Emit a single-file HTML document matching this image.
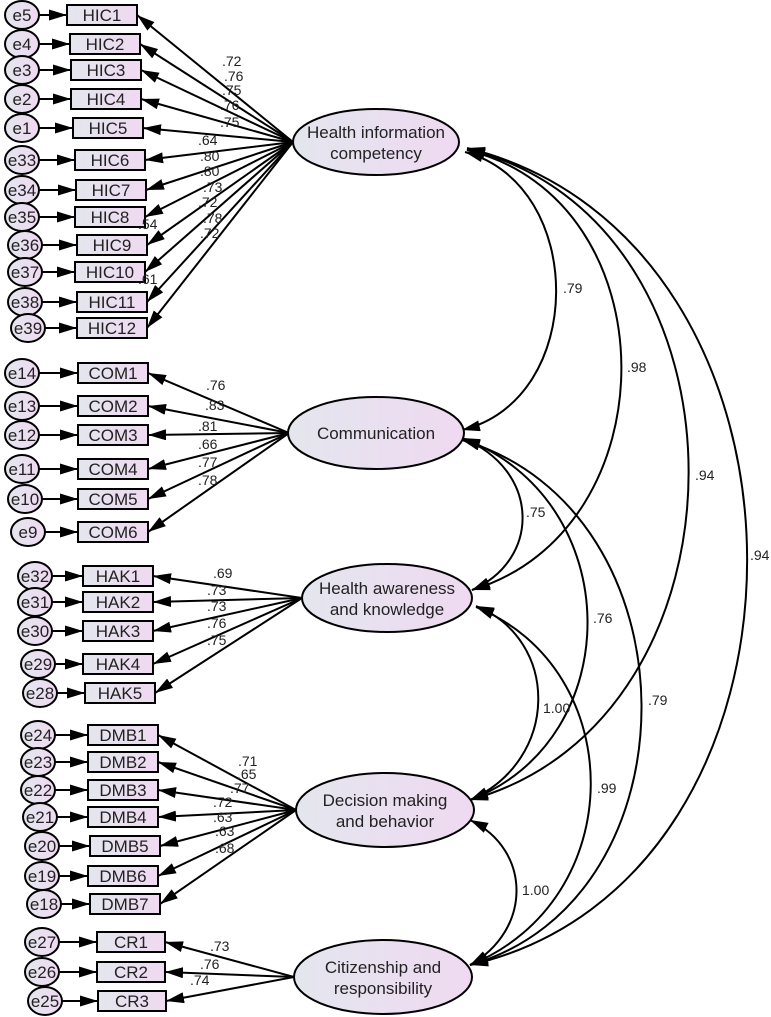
<!DOCTYPE html>
<html><head><meta charset="utf-8"><style>
html,body{margin:0;padding:0;background:#fff;}
svg{display:block;}
text{font-family:"Liberation Sans",Arial,sans-serif;fill:#222;}
.lbl{font-size:14px;}
.bx{font-size:17px;}
.ex{font-size:17px;}
.lv{font-size:17px;}
</style></head><body>
<svg width="771" height="1017" viewBox="0 0 771 1017" xmlns="http://www.w3.org/2000/svg">
<defs>
<linearGradient id="g" x1="0" x2="1" y1="0" y2="0"><stop offset="0" stop-color="#e4e6ee"/><stop offset="1" stop-color="#efd9f1"/></linearGradient>
<marker id="a" markerUnits="userSpaceOnUse" markerWidth="18" markerHeight="11" viewBox="0 0 18 11" refX="18" refY="5.5" orient="auto-start-reverse"><path d="M0,0 L18,5.5 L0,11 z" fill="#000"/></marker>
</defs>
<g id="content" stroke="#000" stroke-width="2"></g>
</svg>
<script>
const svg=document.querySelector('svg'),G=document.getElementById('content');
const NS='http://www.w3.org/2000/svg';
function el(t,a,txt){const e=document.createElementNS(NS,t);for(const k in a)e.setAttribute(k,a[k]);if(txt!==undefined)e.textContent=txt;(t==='text'?svg:G).appendChild(e);return e;}
function txt(x,y,s,c,anchor){el('text',{x,y,class:c,'text-anchor':anchor||'start'},s);}
const groups=[
 {lx:293,ly:142,items:[["HIC1","e5",22,67,15],["HIC2","e4",22,70,44],["HIC3","e3",22,71,70],["HIC4","e2",22,71,99],["HIC5","e1",22,73,128],["HIC6","e33",22,75,160],["HIC7","e34",22,76,190],["HIC8","e35",22,75,217],["HIC9","e36",25,77,245],["HIC10","e37",25,75,272],["HIC11","e38",25,77,302],["HIC12","e39",28,77,328]],
  labs:[[".72",222,66],[".76",224,81],[".75",222,95],[".76",220,110],[".75",220,127],[".64",198,145],[".80",200,161],[".80",200,176],[".73",203,192],[".72",198,207],[".78",203,223],[".72",200,238],[".54",138,229],[".61",138,284]]},
 {lx:289,ly:433,items:[["COM1","e14",22,78,373],["COM2","e13",22,78,406],["COM3","e12",22,78,435],["COM4","e11",22,78,469],["COM5","e10",25,78,499],["COM6","e9",28,78,532]],
  labs:[[".76",206,390],[".83",205,410],[".81",198,431],[".66",198,449],[".77",198,467],[".78",198,485]]},
 {lx:302,ly:598,items:[["HAK1","e32",35,83,576],["HAK2","e31",35,83,602],["HAK3","e30",35,83,631],["HAK4","e29",38,83,664],["HAK5","e28",40,85,693]],
  labs:[[".69",213,578],[".73",207,595],[".73",207,611],[".76",207,628],[".75",207,645]]},
 {lx:296,ly:810,items:[["DMB1","e24",38,88,735],["DMB2","e23",38,88,762],["DMB3","e22",38,88,790],["DMB4","e21",40,88,817],["DMB5","e20",42,90,846],["DMB6","e19",42,88,876],["DMB7","e18",44,90,904]],
  labs:[[".71",238,766],[".65",237,779],[".77",230,793],[".72",213,807],[".63",213,822],[".63",215,836],[".68",215,853]]},
 {lx:294,ly:977,items:[["CR1","e27",42,97,942],["CR2","e26",42,97,972],["CR3","e25",45,98,1001]],
  labs:[[".73",210,951],[".76",200,969],[".74",190,985]]}
];
for(const g of groups){
 for(const [b,e,ex,bx,cy] of g.items){
  const w=b.startsWith("CR")?68:70;
  el('line',{x1:g.lx,y1:g.ly,x2:bx+w,y2:cy,'marker-end':'url(#a)'});
  el('line',{x1:ex+17,y1:cy,x2:bx,y2:cy,'marker-end':'url(#a)'});
  el('ellipse',{cx:ex,cy:cy,rx:17,ry:14,fill:'url(#g)'});
  el('rect',{x:bx,y:cy-10,width:w,height:20,fill:'url(#g)'});
  txt(ex,cy+6,e,'ex','middle');
  txt(bx+w/2,cy+6,b,'bx','middle');
 }
 for(const [s,x,y] of g.labs) txt(x,y,s,'lbl');
}
const arcs=[
 "M465,152 C587,185 587,400 462,430",
 "M467,150 C672,200 672,530 472,590",
 "M467,149 C762,220 762,720 470,800",
 "M467,148 C840,240 840,880 470,965",
 "M462,438 C541,470 541,560 472,590",
 "M462,438 C628,500 628,740 470,800",
 "M462,440 C700,510 700,900 470,965",
 "M476,606 C560,640 560,760 470,800",
 "M476,607 C630,670 630,900 470,965",
 "M470,820 C532,850 532,930 470,965"];
for(const d of arcs) el('path',{d,fill:'none','marker-start':'url(#a)','marker-end':'url(#a)'});
const lat=[[376,142,83,33,["Health information","competency"]],[376,433,88,36,["Communication"]],[387,598,85,34,["Health awareness","and knowledge"]],[385,810,89,37,["Decision making","and behavior"]],[383,977,89,37,["Citizenship and","responsibility"]]];
for(const [cx,cy,rx,ry,t] of lat){
 el('ellipse',{cx,cy,rx,ry,fill:'url(#g)'});
 if(t.length===1) txt(cx,cy+6,t[0],'lv','middle');
 else {txt(cx,cy-4,t[0],'lv','middle');txt(cx,cy+17,t[1],'lv','middle');}
}
for(const [s,x,y] of [[".79",563,293],[".98",627,372],[".94",695,480],[".94",750,560],[".75",526,517],[".76",593,623],[".79",648,705],["1.00",543,713],[".99",597,793],["1.00",522,895]]) txt(x,y,s,'lbl');
</script>
</body></html>
